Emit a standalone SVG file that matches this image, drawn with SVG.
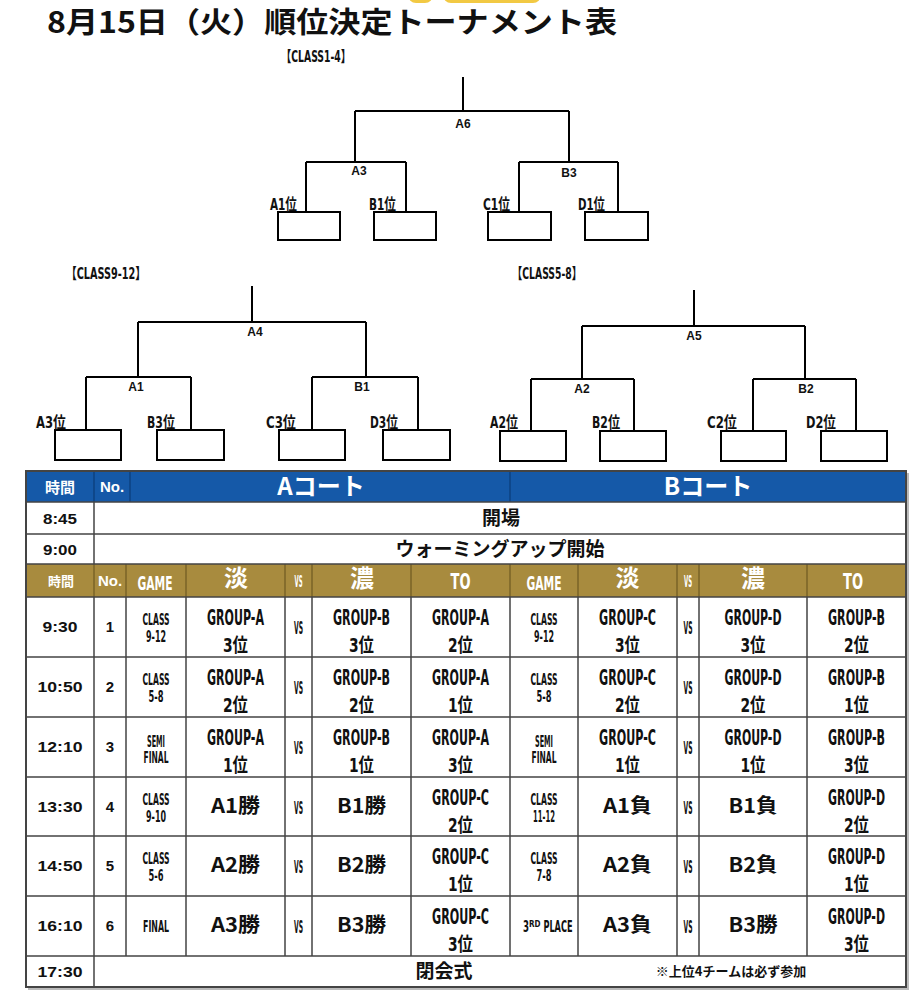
<svg xmlns="http://www.w3.org/2000/svg" width="920" height="1000" viewBox="0 0 920 1000">
<style>
.ln{stroke:#000;stroke-width:2;fill:none}
.box{fill:#fff;stroke:#000;stroke-width:2}
.m{font-family:"Liberation Sans","Noto Sans CJK JP",sans-serif;font-weight:700;font-size:12px;text-anchor:middle;fill:#111}
.c{font-family:"DejaVu Sans Condensed","Liberation Sans Narrow","Noto Sans CJK JP",sans-serif;font-weight:700;fill:#111}
.tm{font-family:"Liberation Sans","Noto Sans CJK JP",sans-serif;font-weight:700;font-size:15px;text-anchor:middle;fill:#111}
.jp{font-family:"Noto Sans CJK JP",sans-serif;font-weight:700;fill:#111}
.w{fill:#fff}
.mid{text-anchor:middle}
.g{stroke:#444;stroke-width:1.5}
.gd{stroke:#6f5a22;stroke-width:1.2}
.bd{stroke:#0b3c78;stroke-width:1.2}
.vs{font-size:17px}
.sm{font-size:15px}
</style>

<!-- decorative yellow shapes cut off at top -->
<rect x="408" y="-20" width="25" height="23" rx="8" fill="#f2c943"/>
<rect x="443" y="-20" width="98" height="23" rx="8" fill="#f2c943"/>

<text class="jp" x="47" y="33" font-size="29" textLength="570" lengthAdjust="spacingAndGlyphs">8月15日（火）順位決定トーナメント表</text>

<!-- bracket titles -->
<text class="c" x="281" y="62" font-size="15" textLength="70" lengthAdjust="spacingAndGlyphs">【CLASS1-4】</text>
<text class="c" x="66" y="279" font-size="15" textLength="80" lengthAdjust="spacingAndGlyphs">【CLASS9-12】</text>
<text class="c" x="512" y="279" font-size="15" textLength="70" lengthAdjust="spacingAndGlyphs">【CLASS5-8】</text>

<g id="connectors">
  <path class="ln" d="M463,77V111M355,111H569M355,111V162M569,111V162M306,162H406M519,162H618M306,162V212M406,162V212M519,162V212M618,162V212"/>
  <path class="ln" d="M252,286V322M138,322H366M138,322V377M366,322V377M86,377H191M312,377H418M86,377V430M191,377V430M312,377V430M418,377V430"/>
  <path class="ln" d="M694,290V326M582,326H805M582,326V379M805,326V379M531,379H634M753,379H856M531,379V431M634,379V431M753,379V431M856,379V431"/>
</g>

<!-- match nodes -->
<g id="m-A6"><text class="m" x="463" y="128">A6</text></g>
<g id="m-A3"><text class="m" x="359" y="175">A3</text></g>
<g id="m-B3"><text class="m" x="569" y="177">B3</text></g>
<g id="m-A4"><text class="m" x="255" y="336">A4</text></g>
<g id="m-A1"><text class="m" x="136" y="391">A1</text></g>
<g id="m-B1"><text class="m" x="362" y="391">B1</text></g>
<g id="m-A5"><text class="m" x="694" y="340">A5</text></g>
<g id="m-A2"><text class="m" x="582" y="393">A2</text></g>
<g id="m-B2"><text class="m" x="806" y="393">B2</text></g>

<!-- team nodes -->
<g id="t-A1"><rect class="box" x="278" y="212" width="62" height="28"/><text class="c" x="270" y="210" font-size="16" textLength="27" lengthAdjust="spacingAndGlyphs">A1位</text></g>
<g id="t-B1"><rect class="box" x="374" y="212" width="62" height="28"/><text class="c" x="369" y="210" font-size="16" textLength="27" lengthAdjust="spacingAndGlyphs">B1位</text></g>
<g id="t-C1"><rect class="box" x="488" y="212" width="63" height="28"/><text class="c" x="483" y="210" font-size="16" textLength="27" lengthAdjust="spacingAndGlyphs">C1位</text></g>
<g id="t-D1"><rect class="box" x="585" y="212" width="63" height="28"/><text class="c" x="578" y="210" font-size="16" textLength="27" lengthAdjust="spacingAndGlyphs">D1位</text></g>

<g id="t-A3"><rect class="box" x="55" y="430" width="66" height="30"/><text class="c" x="36" y="428" font-size="16" textLength="30" lengthAdjust="spacingAndGlyphs">A3位</text></g>
<g id="t-B3"><rect class="box" x="157" y="430" width="67" height="30"/><text class="c" x="147" y="428" font-size="16" textLength="28" lengthAdjust="spacingAndGlyphs">B3位</text></g>
<g id="t-C3"><rect class="box" x="279" y="430" width="66" height="30"/><text class="c" x="266" y="428" font-size="16" textLength="30" lengthAdjust="spacingAndGlyphs">C3位</text></g>
<g id="t-D3"><rect class="box" x="383" y="430" width="67" height="30"/><text class="c" x="370" y="428" font-size="16" textLength="28" lengthAdjust="spacingAndGlyphs">D3位</text></g>

<g id="t-A2"><rect class="box" x="500" y="431" width="66" height="30"/><text class="c" x="490" y="428" font-size="16" textLength="28" lengthAdjust="spacingAndGlyphs">A2位</text></g>
<g id="t-B2"><rect class="box" x="600" y="431" width="66" height="30"/><text class="c" x="592" y="428" font-size="16" textLength="28" lengthAdjust="spacingAndGlyphs">B2位</text></g>
<g id="t-C2"><rect class="box" x="721" y="431" width="65" height="30"/><text class="c" x="707" y="428" font-size="16" textLength="30" lengthAdjust="spacingAndGlyphs">C2位</text></g>
<g id="t-D2"><rect class="box" x="821" y="431" width="66" height="30"/><text class="c" x="806" y="428" font-size="16" textLength="30" lengthAdjust="spacingAndGlyphs">D2位</text></g>

<!-- schedule table -->
<g id="table">
  <rect x="28" y="473" width="881" height="517" fill="#bbb"/>
  <rect x="26" y="471" width="880" height="516" fill="#fff"/>
  <rect x="26" y="471" width="880" height="31" fill="#1559a8"/>
  <rect x="26" y="564" width="880" height="33" fill="#a88b3e"/>
  <path class="bd" d="M94,471V502M130,471V502M510,471V502"/>
  <path class="gd" d="M94,564V597M126,564V597M186,564V597M285,564V597M312,564V597M411,564V597M510,564V597M578,564V597M677,564V597M699,564V597M807,564V597"/>
  <path class="g" d="M26,502H906M26,534H906M26,564H906M26,597H906M26,657H906M26,717H906M26,777H906M26,836H906M26,896H906M26,956H906"/>
  <path class="g" d="M94,502V564M94,956V987"/>
  <path class="g" d="M94,597V956M126,597V956M186,597V956M285,597V956M312,597V956M411,597V956M510,597V956M578,597V956M677,597V956M699,597V956M807,597V956"/>
  <rect x="26" y="471" width="880" height="516" fill="none" stroke="#444" stroke-width="2"/>

  <!-- blue header text -->
  <text class="jp w mid" x="60" y="493" font-size="15">時間</text>
  <text class="tm w" x="112" y="492" font-size="14">No.</text>
  <text class="jp w mid" x="321" y="495" font-size="24">Aコート</text>
  <text class="jp w mid" x="708" y="495" font-size="24">Bコート</text>

  <!-- fixed rows -->
  <text class="tm" x="60" y="524" textLength="34" lengthAdjust="spacingAndGlyphs">8:45</text>
  <text class="jp mid" x="501" y="525" font-size="19">開場</text>
  <text class="tm" x="60" y="555" textLength="34" lengthAdjust="spacingAndGlyphs">9:00</text>
  <text class="jp mid" x="500" y="556" font-size="19">ウォーミングアップ開始</text>

  <!-- gold header text -->
  <text class="jp w mid" x="61" y="586" font-size="13">時間</text>
  <text class="tm w" x="110" y="586" font-size="14">No.</text>
  <text class="c w mid" x="155" y="590" font-size="19" textLength="35" lengthAdjust="spacingAndGlyphs">GAME</text>
  <text class="jp w mid" x="236" y="587" font-size="24">淡</text>
  <text class="c w mid" x="298.5" y="587" font-size="15" textLength="8" lengthAdjust="spacingAndGlyphs">VS</text>
  <text class="jp w mid" x="362" y="587" font-size="24">濃</text>
  <text class="c w mid" x="460.5" y="589" font-size="22" textLength="20" lengthAdjust="spacingAndGlyphs">TO</text>
  <text class="c w mid" x="544" y="590" font-size="19" textLength="35" lengthAdjust="spacingAndGlyphs">GAME</text>
  <text class="jp w mid" x="627.5" y="587" font-size="24">淡</text>
  <text class="c w mid" x="688" y="587" font-size="15" textLength="8" lengthAdjust="spacingAndGlyphs">VS</text>
  <text class="jp w mid" x="753" y="587" font-size="24">濃</text>
  <text class="c w mid" x="853" y="589" font-size="22" textLength="20" lengthAdjust="spacingAndGlyphs">TO</text>

  <!-- Row 1 (597) -->
  <text class="tm" x="60" y="632" textLength="35" lengthAdjust="spacingAndGlyphs">9:30</text>
  <text class="tm" x="110" y="632">1</text>
  <text class="c mid sm" x="156" y="625" textLength="27" lengthAdjust="spacingAndGlyphs">CLASS</text>
  <text class="c mid sm" x="156" y="642" textLength="20" lengthAdjust="spacingAndGlyphs">9-12</text>
  <text class="c mid" x="235.5" y="625" font-size="21" textLength="57" lengthAdjust="spacingAndGlyphs">GROUP-A</text>
  <text class="c mid" x="235.5" y="652" font-size="19" textLength="25" lengthAdjust="spacingAndGlyphs">3位</text>
  <text class="c mid vs" x="298.5" y="634" textLength="9" lengthAdjust="spacingAndGlyphs">VS</text>
  <text class="c mid" x="361.5" y="625" font-size="21" textLength="57" lengthAdjust="spacingAndGlyphs">GROUP-B</text>
  <text class="c mid" x="361.5" y="652" font-size="19" textLength="25" lengthAdjust="spacingAndGlyphs">3位</text>
  <text class="c mid" x="460.5" y="625" font-size="21" textLength="57" lengthAdjust="spacingAndGlyphs">GROUP-A</text>
  <text class="c mid" x="460.5" y="652" font-size="19" textLength="25" lengthAdjust="spacingAndGlyphs">2位</text>
  <text class="c mid sm" x="544" y="625" textLength="27" lengthAdjust="spacingAndGlyphs">CLASS</text>
  <text class="c mid sm" x="544" y="642" textLength="20" lengthAdjust="spacingAndGlyphs">9-12</text>
  <text class="c mid" x="627.5" y="625" font-size="21" textLength="57" lengthAdjust="spacingAndGlyphs">GROUP-C</text>
  <text class="c mid" x="627.5" y="652" font-size="19" textLength="25" lengthAdjust="spacingAndGlyphs">3位</text>
  <text class="c mid vs" x="688" y="634" textLength="9" lengthAdjust="spacingAndGlyphs">VS</text>
  <text class="c mid" x="753" y="625" font-size="21" textLength="57" lengthAdjust="spacingAndGlyphs">GROUP-D</text>
  <text class="c mid" x="753" y="652" font-size="19" textLength="25" lengthAdjust="spacingAndGlyphs">3位</text>
  <text class="c mid" x="856.5" y="625" font-size="21" textLength="57" lengthAdjust="spacingAndGlyphs">GROUP-B</text>
  <text class="c mid" x="856.5" y="652" font-size="19" textLength="25" lengthAdjust="spacingAndGlyphs">2位</text>

  <!-- Row 2 (657) -->
  <text class="tm" x="60" y="692" textLength="45" lengthAdjust="spacingAndGlyphs">10:50</text>
  <text class="tm" x="110" y="692">2</text>
  <text class="c mid sm" x="156" y="685" textLength="27" lengthAdjust="spacingAndGlyphs">CLASS</text>
  <text class="c mid sm" x="156" y="702" textLength="15" lengthAdjust="spacingAndGlyphs">5-8</text>
  <text class="c mid" x="235.5" y="685" font-size="21" textLength="57" lengthAdjust="spacingAndGlyphs">GROUP-A</text>
  <text class="c mid" x="235.5" y="712" font-size="19" textLength="25" lengthAdjust="spacingAndGlyphs">2位</text>
  <text class="c mid vs" x="298.5" y="694" textLength="9" lengthAdjust="spacingAndGlyphs">VS</text>
  <text class="c mid" x="361.5" y="685" font-size="21" textLength="57" lengthAdjust="spacingAndGlyphs">GROUP-B</text>
  <text class="c mid" x="361.5" y="712" font-size="19" textLength="25" lengthAdjust="spacingAndGlyphs">2位</text>
  <text class="c mid" x="460.5" y="685" font-size="21" textLength="57" lengthAdjust="spacingAndGlyphs">GROUP-A</text>
  <text class="c mid" x="460.5" y="712" font-size="19" textLength="25" lengthAdjust="spacingAndGlyphs">1位</text>
  <text class="c mid sm" x="544" y="685" textLength="27" lengthAdjust="spacingAndGlyphs">CLASS</text>
  <text class="c mid sm" x="544" y="702" textLength="15" lengthAdjust="spacingAndGlyphs">5-8</text>
  <text class="c mid" x="627.5" y="685" font-size="21" textLength="57" lengthAdjust="spacingAndGlyphs">GROUP-C</text>
  <text class="c mid" x="627.5" y="712" font-size="19" textLength="25" lengthAdjust="spacingAndGlyphs">2位</text>
  <text class="c mid vs" x="688" y="694" textLength="9" lengthAdjust="spacingAndGlyphs">VS</text>
  <text class="c mid" x="753" y="685" font-size="21" textLength="57" lengthAdjust="spacingAndGlyphs">GROUP-D</text>
  <text class="c mid" x="753" y="712" font-size="19" textLength="25" lengthAdjust="spacingAndGlyphs">2位</text>
  <text class="c mid" x="856.5" y="685" font-size="21" textLength="57" lengthAdjust="spacingAndGlyphs">GROUP-B</text>
  <text class="c mid" x="856.5" y="712" font-size="19" textLength="25" lengthAdjust="spacingAndGlyphs">1位</text>

  <!-- Row 3 (717) -->
  <text class="tm" x="60" y="752" textLength="45" lengthAdjust="spacingAndGlyphs">12:10</text>
  <text class="tm" x="110" y="752">3</text>
  <text class="c mid sm" x="156" y="747" textLength="18" lengthAdjust="spacingAndGlyphs">SEMI</text>
  <text class="c mid sm" x="156" y="763" textLength="25" lengthAdjust="spacingAndGlyphs">FINAL</text>
  <text class="c mid" x="235.5" y="745" font-size="21" textLength="57" lengthAdjust="spacingAndGlyphs">GROUP-A</text>
  <text class="c mid" x="235.5" y="772" font-size="19" textLength="25" lengthAdjust="spacingAndGlyphs">1位</text>
  <text class="c mid vs" x="298.5" y="754" textLength="9" lengthAdjust="spacingAndGlyphs">VS</text>
  <text class="c mid" x="361.5" y="745" font-size="21" textLength="57" lengthAdjust="spacingAndGlyphs">GROUP-B</text>
  <text class="c mid" x="361.5" y="772" font-size="19" textLength="25" lengthAdjust="spacingAndGlyphs">1位</text>
  <text class="c mid" x="460.5" y="745" font-size="21" textLength="57" lengthAdjust="spacingAndGlyphs">GROUP-A</text>
  <text class="c mid" x="460.5" y="772" font-size="19" textLength="25" lengthAdjust="spacingAndGlyphs">3位</text>
  <text class="c mid sm" x="544" y="747" textLength="18" lengthAdjust="spacingAndGlyphs">SEMI</text>
  <text class="c mid sm" x="544" y="763" textLength="25" lengthAdjust="spacingAndGlyphs">FINAL</text>
  <text class="c mid" x="627.5" y="745" font-size="21" textLength="57" lengthAdjust="spacingAndGlyphs">GROUP-C</text>
  <text class="c mid" x="627.5" y="772" font-size="19" textLength="25" lengthAdjust="spacingAndGlyphs">1位</text>
  <text class="c mid vs" x="688" y="754" textLength="9" lengthAdjust="spacingAndGlyphs">VS</text>
  <text class="c mid" x="753" y="745" font-size="21" textLength="57" lengthAdjust="spacingAndGlyphs">GROUP-D</text>
  <text class="c mid" x="753" y="772" font-size="19" textLength="25" lengthAdjust="spacingAndGlyphs">1位</text>
  <text class="c mid" x="856.5" y="745" font-size="21" textLength="57" lengthAdjust="spacingAndGlyphs">GROUP-B</text>
  <text class="c mid" x="856.5" y="772" font-size="19" textLength="25" lengthAdjust="spacingAndGlyphs">3位</text>

  <!-- Row 4 (777) -->
  <text class="tm" x="60" y="812" textLength="45" lengthAdjust="spacingAndGlyphs">13:30</text>
  <text class="tm" x="110" y="812">4</text>
  <text class="c mid sm" x="156" y="805" textLength="27" lengthAdjust="spacingAndGlyphs">CLASS</text>
  <text class="c mid sm" x="156" y="822" textLength="20" lengthAdjust="spacingAndGlyphs">9-10</text>
  <text class="jp mid" x="235.5" y="813" font-size="20" textLength="49" lengthAdjust="spacingAndGlyphs">A1勝</text>
  <text class="c mid vs" x="298.5" y="814" textLength="9" lengthAdjust="spacingAndGlyphs">VS</text>
  <text class="jp mid" x="361.5" y="813" font-size="20" textLength="49" lengthAdjust="spacingAndGlyphs">B1勝</text>
  <text class="c mid" x="460.5" y="805" font-size="21" textLength="57" lengthAdjust="spacingAndGlyphs">GROUP-C</text>
  <text class="c mid" x="460.5" y="832" font-size="19" textLength="25" lengthAdjust="spacingAndGlyphs">2位</text>
  <text class="c mid sm" x="544" y="805" textLength="27" lengthAdjust="spacingAndGlyphs">CLASS</text>
  <text class="c mid sm" x="544" y="822" textLength="22" lengthAdjust="spacingAndGlyphs">11-12</text>
  <text class="jp mid" x="627.5" y="813" font-size="20" textLength="49" lengthAdjust="spacingAndGlyphs">A1負</text>
  <text class="c mid vs" x="688" y="814" textLength="9" lengthAdjust="spacingAndGlyphs">VS</text>
  <text class="jp mid" x="753" y="813" font-size="20" textLength="49" lengthAdjust="spacingAndGlyphs">B1負</text>
  <text class="c mid" x="856.5" y="805" font-size="21" textLength="57" lengthAdjust="spacingAndGlyphs">GROUP-D</text>
  <text class="c mid" x="856.5" y="832" font-size="19" textLength="25" lengthAdjust="spacingAndGlyphs">2位</text>

  <!-- Row 5 (836) -->
  <text class="tm" x="60" y="871" textLength="45" lengthAdjust="spacingAndGlyphs">14:50</text>
  <text class="tm" x="110" y="871">5</text>
  <text class="c mid sm" x="156" y="864" textLength="27" lengthAdjust="spacingAndGlyphs">CLASS</text>
  <text class="c mid sm" x="156" y="881" textLength="15" lengthAdjust="spacingAndGlyphs">5-6</text>
  <text class="jp mid" x="235.5" y="872" font-size="20" textLength="49" lengthAdjust="spacingAndGlyphs">A2勝</text>
  <text class="c mid vs" x="298.5" y="873" textLength="9" lengthAdjust="spacingAndGlyphs">VS</text>
  <text class="jp mid" x="361.5" y="872" font-size="20" textLength="49" lengthAdjust="spacingAndGlyphs">B2勝</text>
  <text class="c mid" x="460.5" y="864" font-size="21" textLength="57" lengthAdjust="spacingAndGlyphs">GROUP-C</text>
  <text class="c mid" x="460.5" y="891" font-size="19" textLength="25" lengthAdjust="spacingAndGlyphs">1位</text>
  <text class="c mid sm" x="544" y="864" textLength="27" lengthAdjust="spacingAndGlyphs">CLASS</text>
  <text class="c mid sm" x="544" y="881" textLength="15" lengthAdjust="spacingAndGlyphs">7-8</text>
  <text class="jp mid" x="627.5" y="872" font-size="20" textLength="49" lengthAdjust="spacingAndGlyphs">A2負</text>
  <text class="c mid vs" x="688" y="873" textLength="9" lengthAdjust="spacingAndGlyphs">VS</text>
  <text class="jp mid" x="753" y="872" font-size="20" textLength="49" lengthAdjust="spacingAndGlyphs">B2負</text>
  <text class="c mid" x="856.5" y="864" font-size="21" textLength="57" lengthAdjust="spacingAndGlyphs">GROUP-D</text>
  <text class="c mid" x="856.5" y="891" font-size="19" textLength="25" lengthAdjust="spacingAndGlyphs">1位</text>

  <!-- Row 6 (896) -->
  <text class="tm" x="60" y="931" textLength="45" lengthAdjust="spacingAndGlyphs">16:10</text>
  <text class="tm" x="110" y="931">6</text>
  <text class="c mid sm" x="156" y="932" textLength="26" lengthAdjust="spacingAndGlyphs">FINAL</text>
  <text class="jp mid" x="235.5" y="932" font-size="20" textLength="49" lengthAdjust="spacingAndGlyphs">A3勝</text>
  <text class="c mid vs" x="298.5" y="933" textLength="9" lengthAdjust="spacingAndGlyphs">VS</text>
  <text class="jp mid" x="361.5" y="932" font-size="20" textLength="49" lengthAdjust="spacingAndGlyphs">B3勝</text>
  <text class="c mid" x="460.5" y="924" font-size="21" textLength="57" lengthAdjust="spacingAndGlyphs">GROUP-C</text>
  <text class="c mid" x="460.5" y="951" font-size="19" textLength="25" lengthAdjust="spacingAndGlyphs">3位</text>
  <text class="c" x="523" y="932" font-size="15"><tspan textLength="6" lengthAdjust="spacingAndGlyphs">3</tspan><tspan font-size="8" dy="-5">RD</tspan><tspan dy="5" textLength="32" lengthAdjust="spacingAndGlyphs"> PLACE</tspan></text>
  <text class="jp mid" x="627.5" y="932" font-size="20" textLength="49" lengthAdjust="spacingAndGlyphs">A3負</text>
  <text class="c mid vs" x="688" y="933" textLength="9" lengthAdjust="spacingAndGlyphs">VS</text>
  <text class="jp mid" x="753" y="932" font-size="20" textLength="49" lengthAdjust="spacingAndGlyphs">B3勝</text>
  <text class="c mid" x="856.5" y="924" font-size="21" textLength="57" lengthAdjust="spacingAndGlyphs">GROUP-D</text>
  <text class="c mid" x="856.5" y="951" font-size="19" textLength="25" lengthAdjust="spacingAndGlyphs">3位</text>

  <!-- Row 7 (956) -->
  <text class="tm" x="60" y="977" textLength="45" lengthAdjust="spacingAndGlyphs">17:30</text>
  <text class="jp mid" x="444" y="978" font-size="19">閉会式</text>
  <text class="jp mid" x="731" y="976" font-size="13">※上位4チームは必ず参加</text>
</g>
</svg>
